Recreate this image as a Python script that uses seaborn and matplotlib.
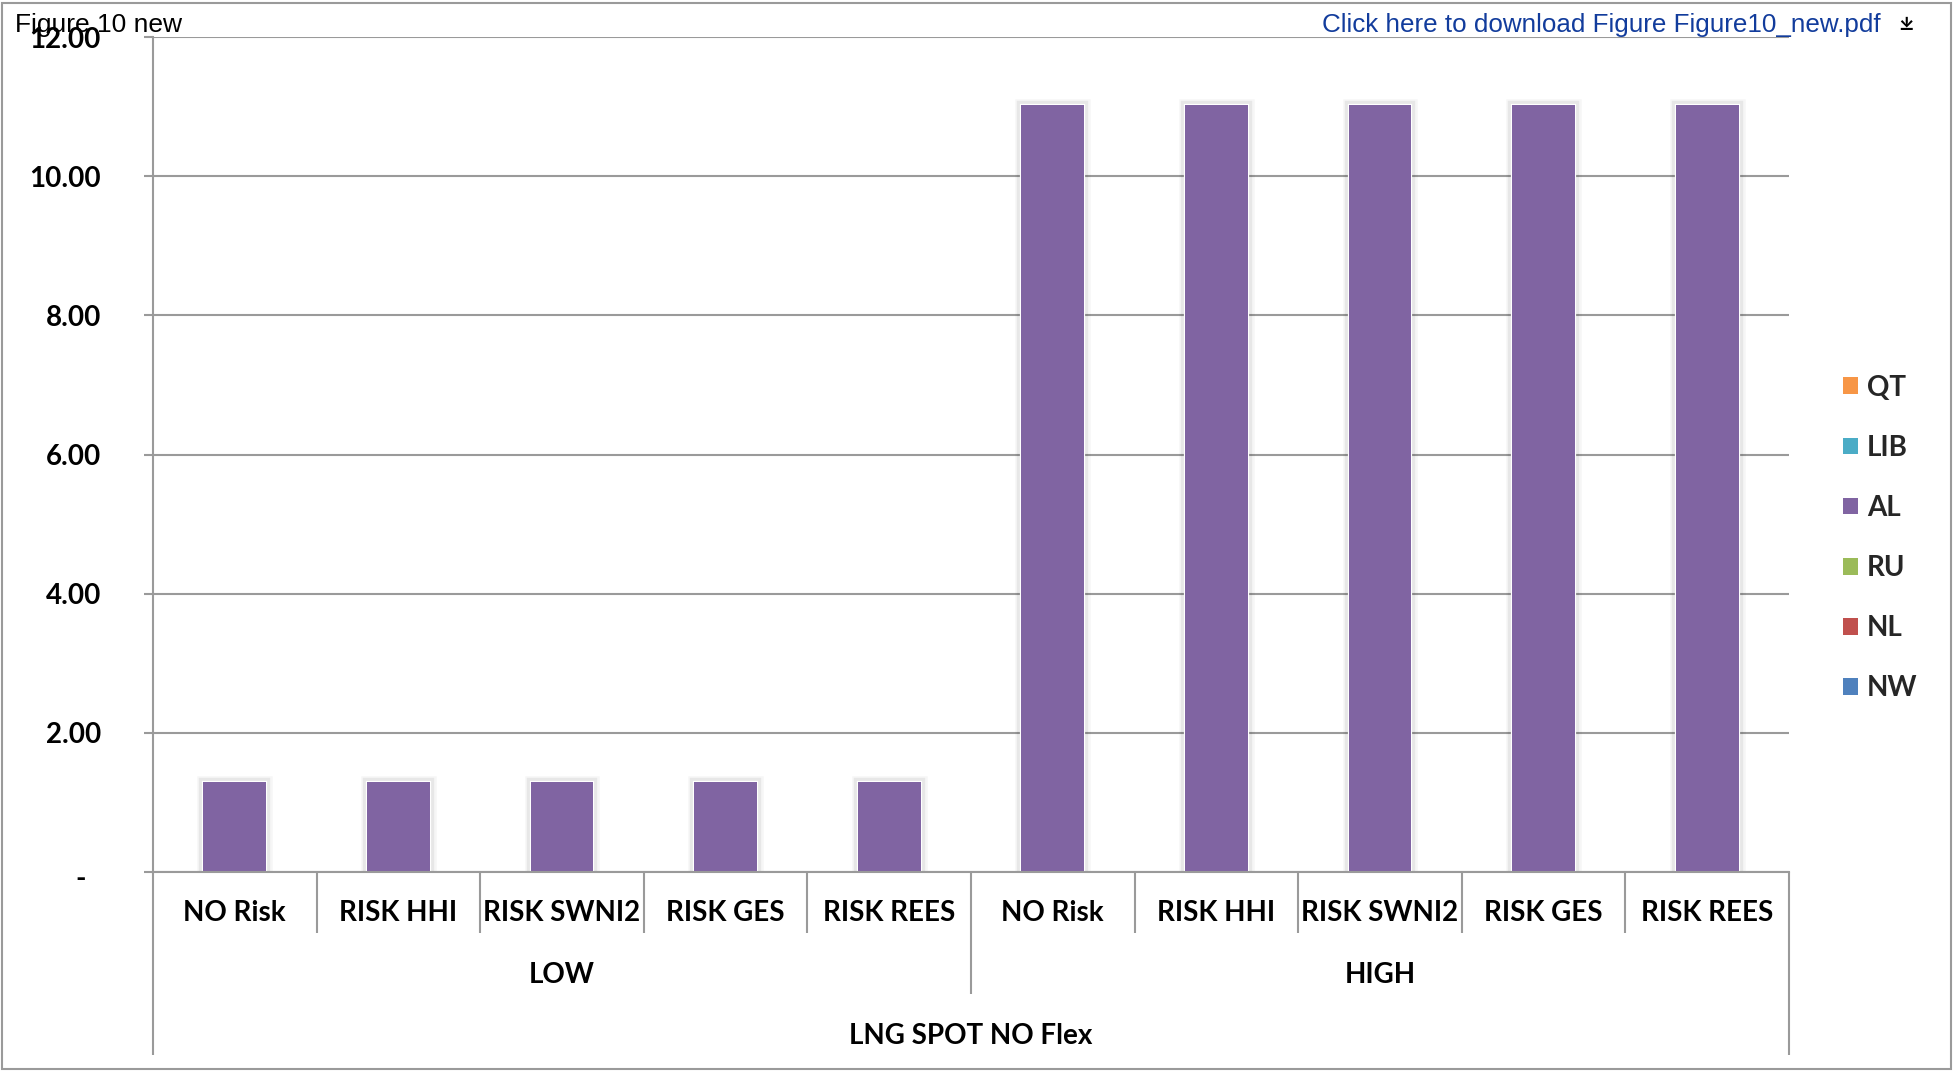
import numpy as np
import pandas as pd
import matplotlib
matplotlib.use("Agg")
import matplotlib.pyplot as plt
import seaborn as sns
from matplotlib.patches import Patch, Rectangle
from matplotlib import patheffects as pe
from matplotlib.transforms import ScaledTranslation, blended_transform_factory

# ---- data -----------------------------------------------------------------
scenarios = ["NO Risk", "RISK HHI", "RISK SWNI2", "RISK GES", "RISK REES"]
levels = ["LOW", "HIGH"]
case_label = "LNG SPOT NO Flex"

# supplier series, bottom of the stack first
series_names = ["NW", "NL", "RU", "AL", "LIB", "QT"]
series_colors = ["#4F81BD", "#C0504D", "#9BBB59", "#8064A2", "#4BACC6", "#F79646"]

nw = [0, 0, 0, 0, 0, 0, 0, 0, 0, 0]
nl = [0, 0, 0, 0, 0, 0, 0, 0, 0, 0]
ru = [0, 0, 0, 0, 0, 0, 0, 0, 0, 0]
al = [1.30, 1.30, 1.30, 1.30, 1.30, 11.02, 11.02, 11.02, 11.02, 11.02]
lib = [0, 0, 0, 0, 0, 0, 0, 0, 0, 0]
qt = [0, 0, 0, 0, 0, 0, 0, 0, 0, 0]
series_values = [nw, nl, ru, al, lib, qt]

y_ticks = [0, 2, 4, 6, 8, 10, 12]
y_tick_labels = ["-", "2.00", "4.00", "6.00", "8.00", "10.00", "12.00"]

header_left = "Figure 10 new"
header_right = "Click here to download Figure Figure10_new.pdf"

# ---- figure ---------------------------------------------------------------
W, H = 1955, 1072
sns.set_theme(style="white")
plt.rcParams["font.family"] = ["Lato", "DejaVu Sans"]

fig = plt.figure(figsize=(W / 100, H / 100), dpi=100)
ax_l, ax_r, ax_t, ax_b = 153, 1789, 37, 872
ax = fig.add_axes([ax_l / W, 1 - ax_b / H, (ax_r - ax_l) / W, (ax_b - ax_t) / H])

keys = [f"{lv} | {sc}" for lv in levels for sc in scenarios]
df = pd.DataFrame({"bar": keys})
for name, vals in zip(series_names, series_values):
    df[name] = vals

bottom = np.zeros(len(keys))
for name, color in zip(series_names, series_colors):
    sns.barplot(data=df, x="bar", y=name, order=keys, color=color,
                saturation=1, width=0.385, linewidth=0, errorbar=None,
                bottom=bottom, ax=ax, zorder=2)
    bottom = bottom + df[name].to_numpy(dtype=float)

# soft shadow around the visible bars
for p in ax.patches:
    if p.get_height() > 0:
        p.set_path_effects([
            pe.Stroke(linewidth=9, foreground="black", alpha=0.035),
            pe.Stroke(linewidth=6, foreground="black", alpha=0.06),
            pe.Stroke(linewidth=1.6, foreground="white"),
            pe.Normal(),
        ])

grid_c = "#9a9a9a"
ax.set_xlim(-0.5, len(keys) - 0.5)
ax.set_ylim(0, 12)
ax.set_yticks(y_ticks)
ax.set_yticklabels(y_tick_labels, fontsize=20, fontweight="bold", color="black")
ax.set_xticks([])
ax.set_xlabel("")
ax.set_ylabel("")
ax.yaxis.grid(True, color=grid_c, linewidth=1.5)
ax.set_axisbelow(True)
ax.tick_params(axis="y", length=6.5, width=1.5, color=grid_c, direction="out", pad=31, left=True)
for s in ["top", "right"]:
    ax.spines[s].set_visible(False)
for s in ["left", "bottom"]:
    ax.spines[s].set_color(grid_c)
    ax.spines[s].set_linewidth(1.5)

# the zero label sits a little left of the others
zl = ax.get_yticklabels()[0]
zl.set_transform(zl.get_transform() + ScaledTranslation(-15 / 100, -5 / 100, fig.dpi_scale_trans))

# ---- hierarchical category axis ------------------------------------------
ax_h = ax_b - ax_t
tr = blended_transform_factory(ax.transData, ax.transAxes)
d1 = -(933 - ax_b) / ax_h
d2 = -(994 - ax_b) / ax_h
d3 = -(1055 - ax_b) / ax_h
line_kw = dict(color=grid_c, linewidth=1.5, clip_on=False, transform=tr, solid_capstyle="butt")

n_sc = len(scenarios)
for i in range(1, len(keys)):
    depth = d2 if i % n_sc == 0 else d1
    ax.plot([i - 0.5, i - 0.5], [0, depth], **line_kw)
for xe in [-0.5, len(keys) - 0.5]:
    ax.plot([xe, xe], [0, d3], **line_kw)

y1 = -(913 - ax_b) / ax_h
y2 = -(975 - ax_b) / ax_h
y3 = -(1036 - ax_b) / ax_h
txt_kw = dict(transform=tr, ha="center", va="center", fontsize=20, fontweight="bold", color="black")
for i, k in enumerate(keys):
    ax.text(i, y1, k.split(" | ")[1], **txt_kw)
for g, lv in enumerate(levels):
    ax.text(g * n_sc + (n_sc - 1) / 2, y2, lv, **txt_kw)
ax.text((len(keys) - 1) / 2, y3, case_label, **txt_kw)

# ---- legend ---------------------------------------------------------------
handles = [Patch(facecolor=c, edgecolor="none") for c in series_colors][::-1]
labels = series_names[::-1]
fig.legend(handles, labels, loc="center left", bbox_to_anchor=(1843 / W, 1 - 538 / H),
           frameon=False, prop=dict(family="Lato", weight="bold", size=20),
           handlelength=0.55, handleheight=0.55, handletextpad=0.32,
           labelspacing=1.23, borderpad=0, borderaxespad=0)

# ---- page header and frame ------------------------------------------------
fig.text(15 / W, 1 - 32 / H, header_left, family="Liberation Sans", fontsize=19,
         color="black", va="baseline", ha="left")
fig.text(1881 / W, 1 - 32 / H, header_right, family="Liberation Sans", fontsize=18.7,
         color="#123c9c", va="baseline", ha="right")
fig.text(1906 / W, 1 - 25 / H, "\u2913",
         family=["DejaVu Sans", "Noto Sans CJK SC", "Noto Sans", "Inter", "Roboto"],
         fontsize=13, color="black", va="center", ha="center", fontweight="bold")
fig.add_artist(Rectangle((2 / W, 3 / H), (1951 - 2) / W, (1069 - 3) / H,
                         transform=fig.transFigure, fill=False,
                         edgecolor="#9a9a9a", linewidth=1.5))

fig.savefig("out.png", dpi=100)
